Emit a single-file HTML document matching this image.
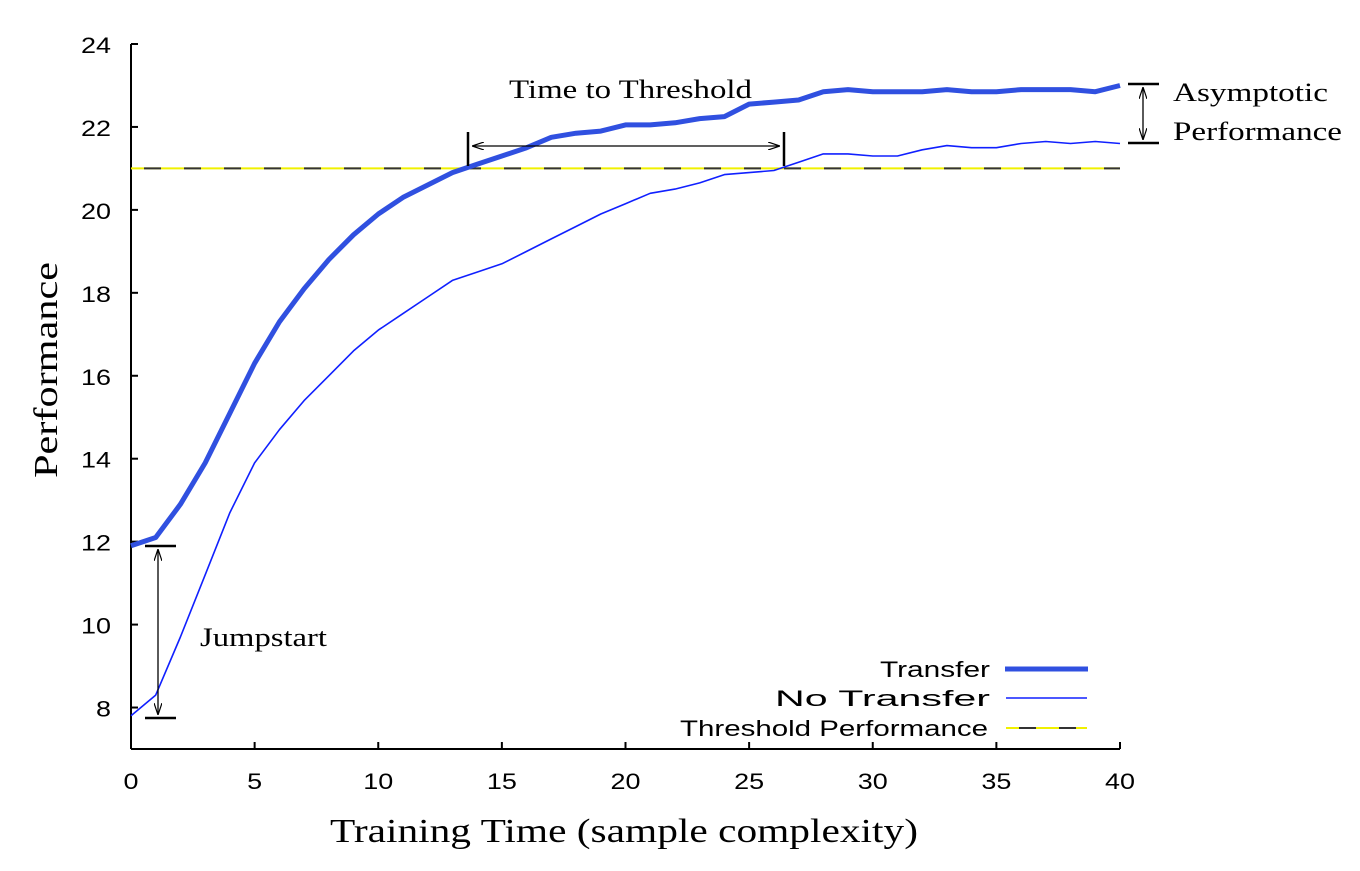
<!DOCTYPE html>
<html><head><meta charset="utf-8"><style>
html,body{margin:0;padding:0;background:#fff;}
svg{display:block;}
.tick{font-family:"Liberation Sans",sans-serif;font-size:22px;fill:#000;}
.ser{font-family:"Liberation Serif",serif;fill:#000;}
</style></head><body>
<svg id="chart" width="1360" height="871" viewBox="0 0 1360 871" xmlns="http://www.w3.org/2000/svg">
<defs>
<marker id="ah" markerWidth="12" markerHeight="8" refX="11" refY="4" orient="auto" markerUnits="userSpaceOnUse"><path d="M0,0 L12,4 L0,8" fill="none" stroke="#000" stroke-width="1.2"/></marker>
</defs>
<g id="axes"></g>
<g id="marks"></g>
<text class="ser" font-size="34" transform="translate(57,370) rotate(-90)" text-anchor="middle" textLength="216" lengthAdjust="spacingAndGlyphs">Performance</text>
<text class="ser" font-size="34" x="330" y="842" textLength="588" lengthAdjust="spacingAndGlyphs">Training Time (sample complexity)</text>
<g>
<text class="ser" font-size="26" x="509" y="98" textLength="243" lengthAdjust="spacingAndGlyphs">Time to Threshold</text>
<line x1="468" y1="132" x2="468" y2="166" stroke="#000" stroke-width="2.5"/>
<line x1="784" y1="132" x2="784" y2="166" stroke="#000" stroke-width="2.5"/>
<line x1="626" y1="146" x2="473" y2="146" stroke="#000" stroke-width="1.3" marker-end="url(#ah)"/>
<line x1="626" y1="146" x2="779" y2="146" stroke="#000" stroke-width="1.3" marker-end="url(#ah)"/>
</g>
<g>
<line x1="1128" y1="84" x2="1159" y2="84" stroke="#000" stroke-width="2.5"/>
<line x1="1128" y1="143" x2="1159" y2="143" stroke="#000" stroke-width="2.5"/>
<line x1="1143" y1="113" x2="1143" y2="88" stroke="#000" stroke-width="1.3" marker-end="url(#ah)"/>
<line x1="1143" y1="113" x2="1143" y2="139" stroke="#000" stroke-width="1.3" marker-end="url(#ah)"/>
<text class="ser" font-size="26" x="1173" y="101" textLength="155" lengthAdjust="spacingAndGlyphs">Asymptotic</text>
<text class="ser" font-size="26" x="1173" y="140" textLength="169" lengthAdjust="spacingAndGlyphs">Performance</text>
</g>
<g>
<line x1="145" y1="546" x2="176" y2="546" stroke="#000" stroke-width="2.5"/>
<line x1="145" y1="718" x2="176" y2="718" stroke="#000" stroke-width="2.5"/>
<line x1="158" y1="632" x2="158" y2="550" stroke="#000" stroke-width="1.3" marker-end="url(#ah)"/>
<line x1="158" y1="632" x2="158" y2="714" stroke="#000" stroke-width="1.3" marker-end="url(#ah)"/>
<text class="ser" font-size="26" x="200" y="646" textLength="127" lengthAdjust="spacingAndGlyphs">Jumpstart</text>
</g>
<g>
<g>
<text class="tick" x="880" y="677" textLength="110" lengthAdjust="spacingAndGlyphs">Transfer</text>
<line x1="1005" y1="669" x2="1088" y2="669" stroke="#3050e0" stroke-width="5"/>
</g>
<g>
<text class="tick" x="775" y="706" textLength="215" lengthAdjust="spacingAndGlyphs">No Transfer</text>
<line x1="1006" y1="698" x2="1087" y2="698" stroke="#1020ff" stroke-width="1.6"/>
</g>
<g>
<text class="tick" x="680" y="736" textLength="308" lengthAdjust="spacingAndGlyphs">Threshold Performance</text>
<line x1="1006" y1="728" x2="1087" y2="728" stroke="#f0f000" stroke-width="2"/>
<line x1="1006" y1="728" x2="1087" y2="728" stroke="#333" stroke-width="2" stroke-dasharray="0,13,17,10"/>
</g>
</g>
</svg>
<script>
const xTicks = [0,5,10,15,20,25,30,35,40];
const yTicks = [8,10,12,14,16,18,20,22,24];
const xs = [0,1,2,3,4,5,6,7,8,9,10,11,12,13,14,15,16,17,18,19,20,21,22,23,24,25,26,27,28,29,30,31,32,33,34,35,36,37,38,39,40];
const transfer = [11.9,12.1,12.9,13.9,15.1,16.3,17.3,18.1,18.8,19.4,19.9,20.3,20.6,20.9,21.1,21.3,21.5,21.75,21.85,21.9,22.05,22.05,22.1,22.2,22.25,22.55,22.6,22.65,22.85,22.9,22.85,22.85,22.85,22.9,22.85,22.85,22.9,22.9,22.9,22.85,23.0];
const noTransfer = [7.8,8.3,9.7,11.2,12.7,13.9,14.7,15.4,16.0,16.6,17.1,17.5,17.9,18.3,18.5,18.7,19.0,19.3,19.6,19.9,20.15,20.4,20.5,20.65,20.85,20.9,20.95,21.15,21.35,21.35,21.3,21.3,21.45,21.55,21.5,21.5,21.6,21.65,21.6,21.65,21.6];
const threshold = [21];
const NS='http://www.w3.org/2000/svg';
const X0=131,X1=1120,Y7=749,Y24=44;
function sx(v){return X0+(v-0)/(40-0)*(X1-X0);}
function sy(v){return Y7-(v-7)/(24-7)*(Y7-Y24);}
function mk(tag,attrs,parent){const e=document.createElementNS(NS,tag);for(const k in attrs)e.setAttribute(k,attrs[k]);parent.appendChild(e);return e;}
const ax=document.getElementById('axes'), mg=document.getElementById('marks');
let e=mk('line',{x1:X0,y1:Y24,x2:X0,y2:Y7,stroke:'#000','stroke-width':2},ax);


e=mk('line',{x1:X0,y1:Y7,x2:X1,y2:Y7,stroke:'#000','stroke-width':2},ax);


xTicks.forEach(t=>{
  mk('line',{x1:sx(t),y1:Y7,x2:sx(t),y2:Y7-7,stroke:'#000','stroke-width':2},ax);
  const s=String(t);
  const w=s.length*15;
  const tx=mk('text',{x:sx(t)-w/2,y:Y7+40,class:'tick',textLength:w,lengthAdjust:'spacingAndGlyphs','font-size':24},ax);
  tx.textContent=s;
  
  
});
yTicks.forEach(t=>{
  mk('line',{x1:X0,y1:sy(t),x2:X0+7,y2:sy(t),stroke:'#000','stroke-width':2},ax);
  const s=String(t);
  const w=s.length*15;
  const tx=mk('text',{x:111-w,y:sy(t)+9,class:'tick',textLength:w,lengthAdjust:'spacingAndGlyphs','font-size':24},ax);
  tx.textContent=s;
  
  
});
let th=mk('line',{x1:sx(0),y1:sy(threshold[0]),x2:sx(40),y2:sy(threshold[0]),stroke:'#f0f000','stroke-width':2},mg);


th=mk('line',{x1:sx(0),y1:sy(threshold[0]),x2:sx(40),y2:sy(threshold[0]),stroke:'#333','stroke-width':2,'stroke-dasharray':'0,13,17,10'},mg);


function path(vals){return vals.map((v,i)=>(i?'L':'M')+sx(xs[i]).toFixed(1)+','+sy(v).toFixed(1)).join(' ');}
let p=mk('path',{d:path(noTransfer),fill:'none',stroke:'#1020ff','stroke-width':1.6,'stroke-linejoin':'round'},mg);


p=mk('path',{d:path(transfer),fill:'none',stroke:'#3050e0','stroke-width':5,'stroke-linejoin':'round'},mg);


</script>
</body></html>
